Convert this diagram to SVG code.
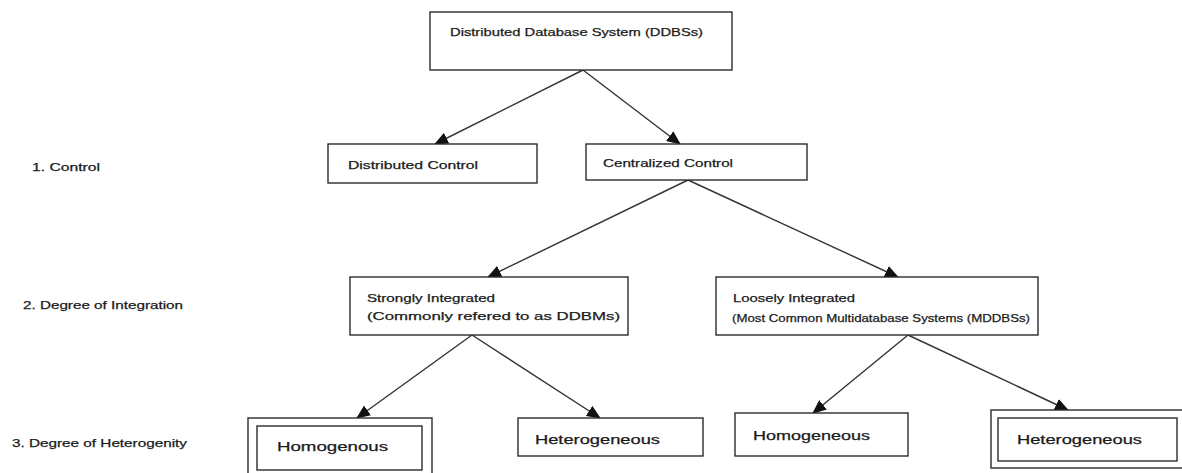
<svg xmlns="http://www.w3.org/2000/svg" width="1182" height="473" viewBox="0 0 1182 473">
  <style>
    .box { fill: #ffffff; stroke: #2b2b2b; stroke-width: 1.4; }
    .t { font-family: "Liberation Sans", Arial, sans-serif; font-size: 11.5px; fill: #1a1a1a; stroke: #1a1a1a; stroke-width: 0.25; dominant-baseline: central; }
    .big { font-size: 13px; }
    .edge { stroke: #333333; stroke-width: 1.4; fill: none; marker-end: url(#arrow); }
  </style>
  <defs>
    <marker id="arrow" markerUnits="userSpaceOnUse" markerWidth="14" markerHeight="12" viewBox="0 0 14 12" refX="13" refY="6" orient="auto">
      <path d="M0,0 L14,6 L0,12 Z" fill="#111111"/>
    </marker>
  </defs>

  <rect width="1182" height="473" fill="#ffffff"/>

  <!-- level labels -->
  <g id="level-labels">
    <text class="t" x="32" y="167" textLength="68" lengthAdjust="spacingAndGlyphs">1. Control</text>
    <text class="t" x="23" y="305" textLength="160" lengthAdjust="spacingAndGlyphs">2. Degree of Integration</text>
    <text class="t" x="12" y="443" textLength="175" lengthAdjust="spacingAndGlyphs">3. Degree of Heterogenity</text>
  </g>

  <!-- connectors -->
  <g id="connectors">
    <line class="edge" x1="583" y1="70" x2="435" y2="144"/>
    <line class="edge" x1="583" y1="70" x2="680" y2="144"/>
    <line class="edge" x1="688" y1="180" x2="488" y2="277"/>
    <line class="edge" x1="688" y1="180" x2="898" y2="277"/>
    <line class="edge" x1="472" y1="335" x2="357" y2="418"/>
    <line class="edge" x1="472" y1="335" x2="600" y2="418"/>
    <line class="edge" x1="908" y1="335" x2="813" y2="413"/>
    <line class="edge" x1="908" y1="335" x2="1068" y2="410"/>
  </g>

  <g id="ddbs">
    <rect class="box" x="430" y="12" width="302" height="58"/>
    <text class="t" x="450" y="32" textLength="253" lengthAdjust="spacingAndGlyphs">Distributed Database System (DDBSs)</text>
  </g>

  <g id="distributed-control">
    <rect class="box" x="328" y="144" width="209" height="39"/>
    <text class="t" x="348" y="165" textLength="130" lengthAdjust="spacingAndGlyphs">Distributed Control</text>
  </g>

  <g id="centralized-control">
    <rect class="box" x="586" y="144" width="221" height="36"/>
    <text class="t" x="603" y="163" textLength="130" lengthAdjust="spacingAndGlyphs">Centralized Control</text>
  </g>

  <g id="strongly-integrated">
    <rect class="box" x="350" y="277" width="278" height="58"/>
    <text class="t" x="367" y="298" textLength="128" lengthAdjust="spacingAndGlyphs">Strongly Integrated</text>
    <text class="t" x="367" y="316" textLength="253" lengthAdjust="spacingAndGlyphs">(Commonly refered to as DDBMs)</text>
  </g>

  <g id="loosely-integrated">
    <rect class="box" x="716" y="277" width="322" height="58"/>
    <text class="t" x="733" y="298" textLength="122" lengthAdjust="spacingAndGlyphs">Loosely Integrated</text>
    <text class="t" x="732" y="318" textLength="298" lengthAdjust="spacingAndGlyphs">(Most Common Multidatabase Systems (MDDBSs)</text>
  </g>

  <g id="homogenous-left">
    <rect class="box" x="248" y="418" width="184" height="58"/>
    <rect class="box" x="257" y="426" width="165" height="44"/>
    <text class="t big" x="277" y="446" textLength="111" lengthAdjust="spacingAndGlyphs">Homogenous</text>
  </g>

  <g id="heterogeneous-left">
    <rect class="box" x="518" y="418" width="185" height="38"/>
    <text class="t big" x="535" y="439" textLength="125" lengthAdjust="spacingAndGlyphs">Heterogeneous</text>
  </g>

  <g id="homogeneous-right">
    <rect class="box" x="735" y="413" width="173" height="43"/>
    <text class="t big" x="753" y="435" textLength="117" lengthAdjust="spacingAndGlyphs">Homogeneous</text>
  </g>

  <g id="heterogeneous-right">
    <rect class="box" x="991" y="410" width="193" height="58"/>
    <rect class="box" x="998" y="418" width="179" height="43"/>
    <text class="t big" x="1017" y="439" textLength="125" lengthAdjust="spacingAndGlyphs">Heterogeneous</text>
  </g>
</svg>
